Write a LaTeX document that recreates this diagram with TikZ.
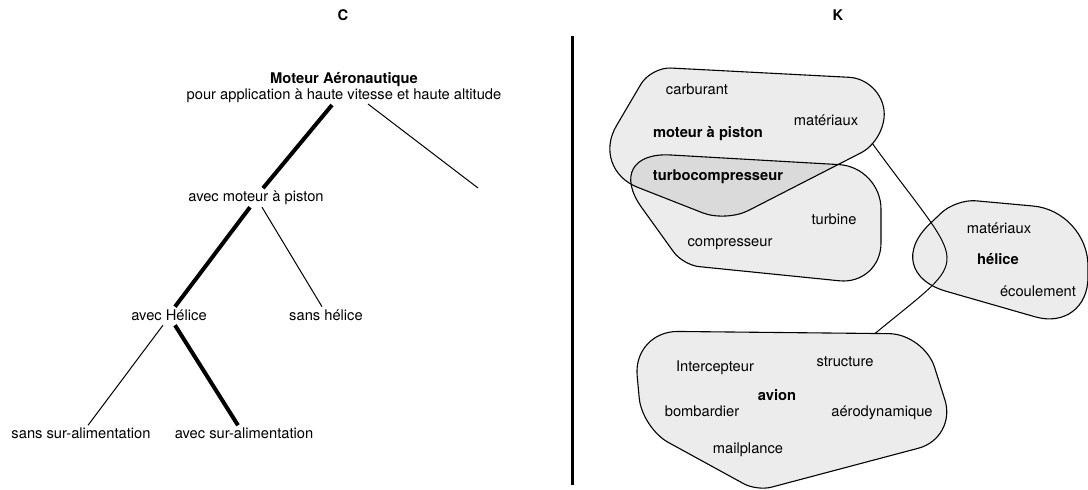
\documentclass[tikz,border=0pt]{standalone}
\usepackage{fontspec}
\setmainfont{TeX Gyre Heros}
\usetikzlibrary{calc}
\begin{document}
\begin{tikzpicture}[x=1pt,y=-1pt,
  lbl/.style={anchor=base, inner sep=0pt, font=\fontsize{14.7}{17}\selectfont},
  hd/.style={anchor=base, inner sep=0pt, font=\fontsize{14.7}{17}\selectfont\bfseries},
  twig/.style={line width=1pt},
  heavy/.style={line width=4pt},
  blob/.style={draw=black, line width=1.1pt, fill=black, fill opacity=0.075},
  % rounded corner at #2 between #1 and #3, radius #4
  rc/.style n args={4}{insert path={-- ($(#2)!#4pt!(#1)$)
     .. controls ($(#2)!#4*0.445pt!(#1)$) and ($(#2)!#4*0.445pt!(#3)$) .. ($(#2)!#4pt!(#3)$)}},
]
\useasboundingbox (0,0) rectangle (1088,490);

% ---------- left half: C tree ----------
\node[hd] (ttlC) at (343,20) {C};
\node[hd] (root) at (344,83) {Moteur Aéronautique};
\node[lbl] (rootSub) at (344,99.5) {pour application à haute vitesse et haute altitude};
\node[lbl] (piston) at (256,201.7) {avec moteur à piston};
\node[lbl] (avecH) at (169,320.7) {avec Hélice};
\node[lbl] (sansH) at (326,320.7) {sans hélice};
\node[lbl] (sansSA) at (81,438.3) {sans sur-alimentation};
\node[lbl] (avecSA) at (244,438.3) {avec sur-alimentation};
\coordinate (other) at (478,188);

\draw[heavy] ($(rootSub.base)+(-12,5.5)$) -- ($(piston.base)+(7,-13.5)$);
\draw[twig]  ($(rootSub.base)+(24,4.5)$) -- (other);
\draw[heavy] ($(piston.base)+(-6,5.5)$) -- ($(avecH.base)+(6,-14)$);
\draw[twig]  ($(piston.base)+(6,5.5)$) -- ($(sansH.base)+(-4,-14)$);
\draw[twig]  ($(avecH.base)+(-6,4.5)$) -- ($(sansSA.base)+(7,-13)$);
\draw[heavy] ($(avecH.base)+(6,4.5)$) -- ($(avecSA.base)+(-6,-13)$);

% ---------- separator ----------
\coordinate (sepTop) at (572,36);
\coordinate (sepBot) at (572,485);
\draw[line width=3pt] (sepTop) -- (sepBot);

% ---------- right half: K concept sets ----------
\node[hd] (ttlK) at (838,20) {K};

% outline vertices
\coordinate (m1) at (651,67);  \coordinate (m2) at (882,79);
\coordinate (m3) at (886,140); \coordinate (m4) at (726,222);
\coordinate (m5) at (591,169);
\coordinate (t1) at (601,151); \coordinate (t2) at (881,167);
\coordinate (t3) at (881,285); \coordinate (t4) at (683,265);
\coordinate (h1) at (956,199); \coordinate (h2) at (1088,211);
\coordinate (h3) at (1088,332); \coordinate (h4) at (879,272);
\coordinate (a1) at (633,331); \coordinate (a2) at (924,334);
\coordinate (a3) at (957,438); \coordinate (a4) at (757,491);
\coordinate (a5) at (642,428);

\draw[blob] ($(m1)!0.5!(m2)$) [rc={m1}{m2}{m3}{33}] [rc={m2}{m3}{m4}{28}]
  [rc={m3}{m4}{m5}{25}] [rc={m4}{m5}{m1}{50}] [rc={m5}{m1}{m2}{20}] -- cycle;
\draw[blob] ($(t1)!0.5!(t2)$) [rc={t1}{t2}{t3}{42}] [rc={t2}{t3}{t4}{42}]
  [rc={t3}{t4}{t1}{16}] [rc={t4}{t1}{t2}{70}] -- cycle;
\draw[blob] ($(h1)!0.5!(h2)$) [rc={h1}{h2}{h3}{55}] [rc={h2}{h3}{h4}{55}]
  [rc={h3}{h4}{h1}{70}] [rc={h4}{h1}{h2}{20}] -- cycle;
\draw[blob] ($(a1)!0.5!(a2)$) [rc={a1}{a2}{a3}{35}] [rc={a2}{a3}{a4}{40}]
  [rc={a3}{a4}{a5}{15}] [rc={a4}{a5}{a1}{30}] [rc={a5}{a1}{a2}{45}] -- cycle;

% link from the piston set down to the aircraft set
\coordinate (mpOut) at (872,143);
\coordinate (avIn) at (875,333.5);
\draw[twig] (mpOut) .. controls (968,275) and (975,251) .. (avIn);

\node[lbl] (carb) at (697,94.5) {carburant};
\node[lbl] (matA) at (826,125) {matériaux};
\node[hd]  (mpis) at (708,137.5) {moteur à piston};
\node[hd]  (turbo) at (718,180.5) {turbocompresseur};
\node[lbl] (turb) at (834,224) {turbine};
\node[lbl] (comp) at (730,246) {compresseur};
\node[lbl] (matB) at (999,233.5) {matériaux};
\node[hd]  (hel) at (998,264.5) {hélice};
\node[lbl] (ecou) at (1038,296.5) {écoulement};
\node[lbl] (inter) at (715,371.5) {Intercepteur};
\node[lbl] (struc) at (845,366) {structure};
\node[hd]  (avion) at (777,400) {avion};
\node[lbl] (bomb) at (702,416) {bombardier};
\node[lbl] (aero) at (882,416) {aérodynamique};
\node[lbl] (mail) at (748,453) {mailplance};
\end{tikzpicture}
\end{document}
